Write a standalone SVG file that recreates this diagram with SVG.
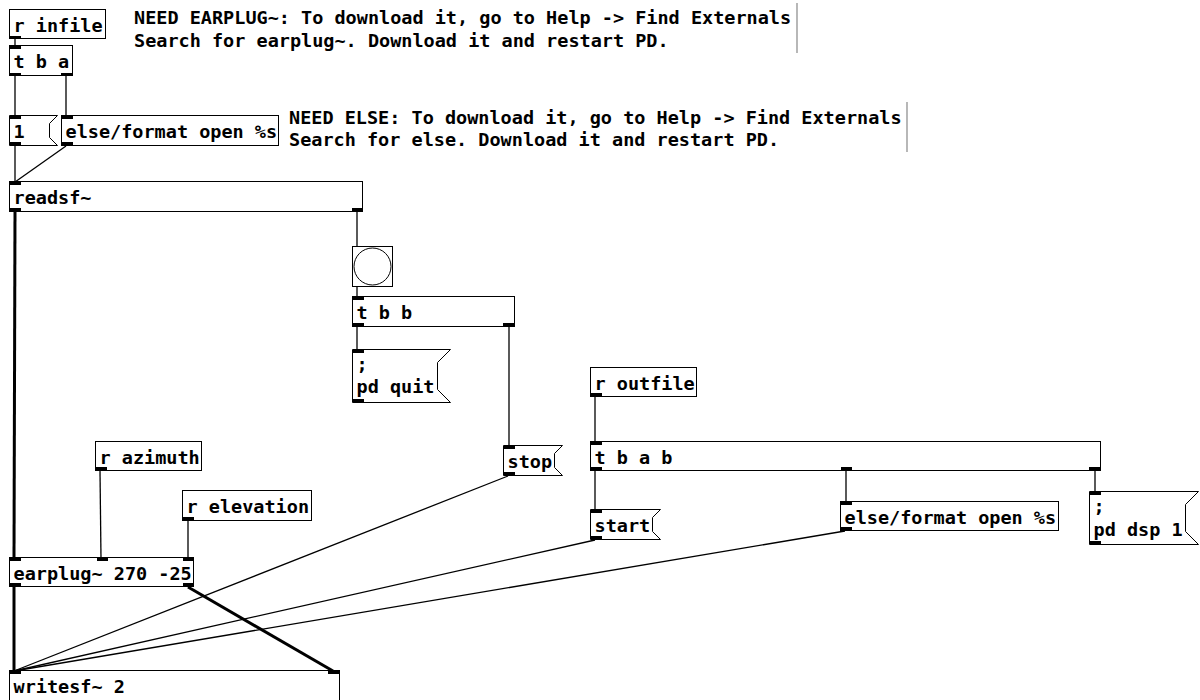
<svg xmlns="http://www.w3.org/2000/svg" width="1200" height="700" viewBox="0 0 1200 700">
<style>
.bx{fill:#fff;stroke:#000;stroke-width:1}
.io{fill:#000;stroke:none}
.t{font-family:"DejaVu Sans Mono","Liberation Mono",monospace;font-weight:bold;font-size:18.5px;fill:#000}
.c{stroke:#000;stroke-width:1.3;fill:none}
.s{stroke:#000;stroke-width:3;fill:none}
.bar{stroke:#888;stroke-width:1.2}
</style>
<rect width="1200" height="700" fill="#fff"/>
<g id="connectors">
<line class="c" x1="15" y1="39" x2="15" y2="46"/>
<line class="c" x1="15" y1="76" x2="15" y2="116"/>
<line class="c" x1="66" y1="76" x2="66" y2="116"/>
<line class="c" x1="15" y1="146" x2="15" y2="182"/>
<line class="c" x1="66" y1="146" x2="15" y2="182"/>
<line class="c" x1="357" y1="212" x2="357" y2="247"/>
<line class="c" x1="357" y1="287" x2="357" y2="297"/>
<line class="c" x1="357" y1="327" x2="357" y2="350"/>
<line class="c" x1="509" y1="327" x2="509" y2="446"/>
<line class="s" x1="15" y1="212" x2="14" y2="558"/>
<line class="c" x1="100" y1="471" x2="101" y2="558"/>
<line class="c" x1="188" y1="521" x2="188" y2="558"/>
<line class="s" x1="14" y1="587" x2="14" y2="671"/>
<line class="s" x1="188" y1="587" x2="333" y2="671"/>
<line class="c" x1="508" y1="476" x2="14" y2="671"/>
<line class="c" x1="595" y1="540" x2="14" y2="671"/>
<line class="c" x1="845" y1="531" x2="14" y2="671"/>
<line class="c" x1="595" y1="397" x2="595" y2="442"/>
<line class="c" x1="595" y1="471" x2="595" y2="510"/>
<line class="c" x1="846" y1="471" x2="846" y2="502"/>
<line class="c" x1="1095" y1="471" x2="1095" y2="492"/>
</g>
<g id="r_infile">
<rect class="bx" x="9.5" y="9.5" width="96" height="29"/>
<rect class="io" x="10" y="36" width="11" height="3"/>
<text class="t" x="13.5" y="31.5">r infile</text>
</g>
<g id="comment_earplug">
<text class="t" x="134" y="24">NEED EARPLUG~: To download it, go to Help -&gt; Find Externals</text>
<text class="t" x="134" y="47">Search for earplug~. Download it and restart PD.</text>
<line class="bar" x1="797" y1="3" x2="797" y2="53"/>
</g>
<g id="t_b_a">
<rect class="bx" x="9.5" y="45.5" width="63" height="30"/>
<rect class="io" x="10" y="46" width="11" height="3"/>
<rect class="io" x="10" y="73" width="11" height="3"/>
<rect class="io" x="61" y="73" width="11" height="3"/>
<text class="t" x="13.5" y="68">t b a</text>
</g>
<g id="msg_1">
<polygon class="bx" points="9.5,115.5 57.5,115.5 49.5,123.5 49.5,137.5 57.5,145.5 9.5,145.5"/>
<rect class="io" x="10" y="116" width="11" height="3"/>
<rect class="io" x="10" y="142" width="11" height="3"/>
<text class="t" x="13.5" y="138">1</text>
</g>
<g id="else_format_1">
<rect class="bx" x="61.5" y="115.5" width="217" height="30"/>
<rect class="io" x="62" y="116" width="11" height="3"/>
<rect class="io" x="62" y="142" width="11" height="3"/>
<text class="t" x="65.5" y="138">else/format open %s</text>
</g>
<g id="comment_else">
<text class="t" x="289" y="124">NEED ELSE: To download it, go to Help -&gt; Find Externals</text>
<text class="t" x="289" y="146">Search for else. Download it and restart PD.</text>
<line class="bar" x1="907" y1="102" x2="907" y2="152"/>
</g>
<g id="readsf">
<rect class="bx" x="9.5" y="181.5" width="353" height="30"/>
<rect class="io" x="10" y="182" width="11" height="3"/>
<rect class="io" x="10" y="208" width="11" height="3"/>
<rect class="io" x="352" y="208" width="11" height="3"/>
<text class="t" x="13.5" y="204">readsf~</text>
</g>
<g id="bang">
<rect class="bx" x="352.5" y="246.5" width="40" height="40"/>
<circle class="bx" cx="372.5" cy="266.5" r="18.5"/>
</g>
<g id="t_b_b">
<rect class="bx" x="352.5" y="296.5" width="162" height="30"/>
<rect class="io" x="353" y="297" width="11" height="3"/>
<rect class="io" x="353" y="323" width="11" height="3"/>
<rect class="io" x="503" y="323" width="11" height="3"/>
<text class="t" x="356.5" y="319">t b b</text>
</g>
<g id="msg_pd_quit">
<polygon class="bx" points="352.5,349.5 450.5,349.5 437.5,362.5 437.5,389.5 450.5,402.5 352.5,402.5"/>
<rect class="io" x="353" y="350" width="11" height="3"/>
<rect class="io" x="353" y="399" width="11" height="3"/>
<text class="t" x="356.5" y="371">;</text>
<text class="t" x="356.5" y="393">pd quit</text>
</g>
<g id="r_outfile">
<rect class="bx" x="590.5" y="367.5" width="106" height="29"/>
<rect class="io" x="591" y="393" width="11" height="3"/>
<text class="t" x="594.5" y="389.5">r outfile</text>
</g>
<g id="t_b_a_b">
<rect class="bx" x="590.5" y="441.5" width="510" height="29"/>
<rect class="io" x="591" y="442" width="11" height="3"/>
<rect class="io" x="591" y="467" width="11" height="3"/>
<rect class="io" x="841" y="467" width="11" height="3"/>
<rect class="io" x="1089" y="467" width="11" height="3"/>
<text class="t" x="594.5" y="463.5">t b a b</text>
</g>
<g id="msg_stop">
<polygon class="bx" points="503.5,445.5 562.5,445.5 554.5,453.5 554.5,467.5 562.5,475.5 503.5,475.5"/>
<rect class="io" x="504" y="446" width="11" height="3"/>
<rect class="io" x="504" y="472" width="11" height="3"/>
<text class="t" x="507.5" y="468">stop</text>
</g>
<g id="msg_start">
<polygon class="bx" points="590.5,509.5 660.5,509.5 652.5,517.5 652.5,531.5 660.5,539.5 590.5,539.5"/>
<rect class="io" x="591" y="510" width="11" height="3"/>
<rect class="io" x="591" y="536" width="11" height="3"/>
<text class="t" x="594.5" y="532">start</text>
</g>
<g id="else_format_2">
<rect class="bx" x="840.5" y="501.5" width="218" height="29"/>
<rect class="io" x="841" y="502" width="11" height="3"/>
<rect class="io" x="841" y="527" width="11" height="3"/>
<text class="t" x="844.5" y="524">else/format open %s</text>
</g>
<g id="msg_pd_dsp">
<polygon class="bx" points="1089.5,491.5 1198.5,491.5 1185.5,504.5 1185.5,531.5 1198.5,544.5 1089.5,544.5"/>
<rect class="io" x="1090" y="492" width="11" height="3"/>
<rect class="io" x="1090" y="541" width="11" height="3"/>
<text class="t" x="1093.5" y="513">;</text>
<text class="t" x="1093.5" y="535.5">pd dsp 1</text>
</g>
<g id="r_azimuth">
<rect class="bx" x="95.5" y="441.5" width="106" height="29"/>
<rect class="io" x="96" y="467" width="11" height="3"/>
<text class="t" x="99.5" y="463.5">r azimuth</text>
</g>
<g id="r_elevation">
<rect class="bx" x="182.5" y="490.5" width="129" height="30"/>
<rect class="io" x="183" y="517" width="11" height="3"/>
<text class="t" x="186.5" y="513">r elevation</text>
</g>
<g id="earplug">
<rect class="bx" x="9.5" y="557.5" width="184" height="29"/>
<rect class="io" x="10" y="558" width="11" height="3"/>
<rect class="io" x="97" y="558" width="11" height="3"/>
<rect class="io" x="183" y="558" width="11" height="3"/>
<rect class="io" x="10" y="583" width="11" height="3"/>
<rect class="io" x="183" y="583" width="11" height="3"/>
<text class="t" x="13.5" y="579.5">earplug~ 270 -25</text>
</g>
<g id="writesf">
<rect class="bx" x="9.5" y="670.5" width="330" height="40"/>
<rect class="io" x="10" y="671" width="11" height="3"/>
<rect class="io" x="328" y="671" width="11" height="3"/>
<text class="t" x="13.5" y="693">writesf~ 2</text>
</g>
</svg>
